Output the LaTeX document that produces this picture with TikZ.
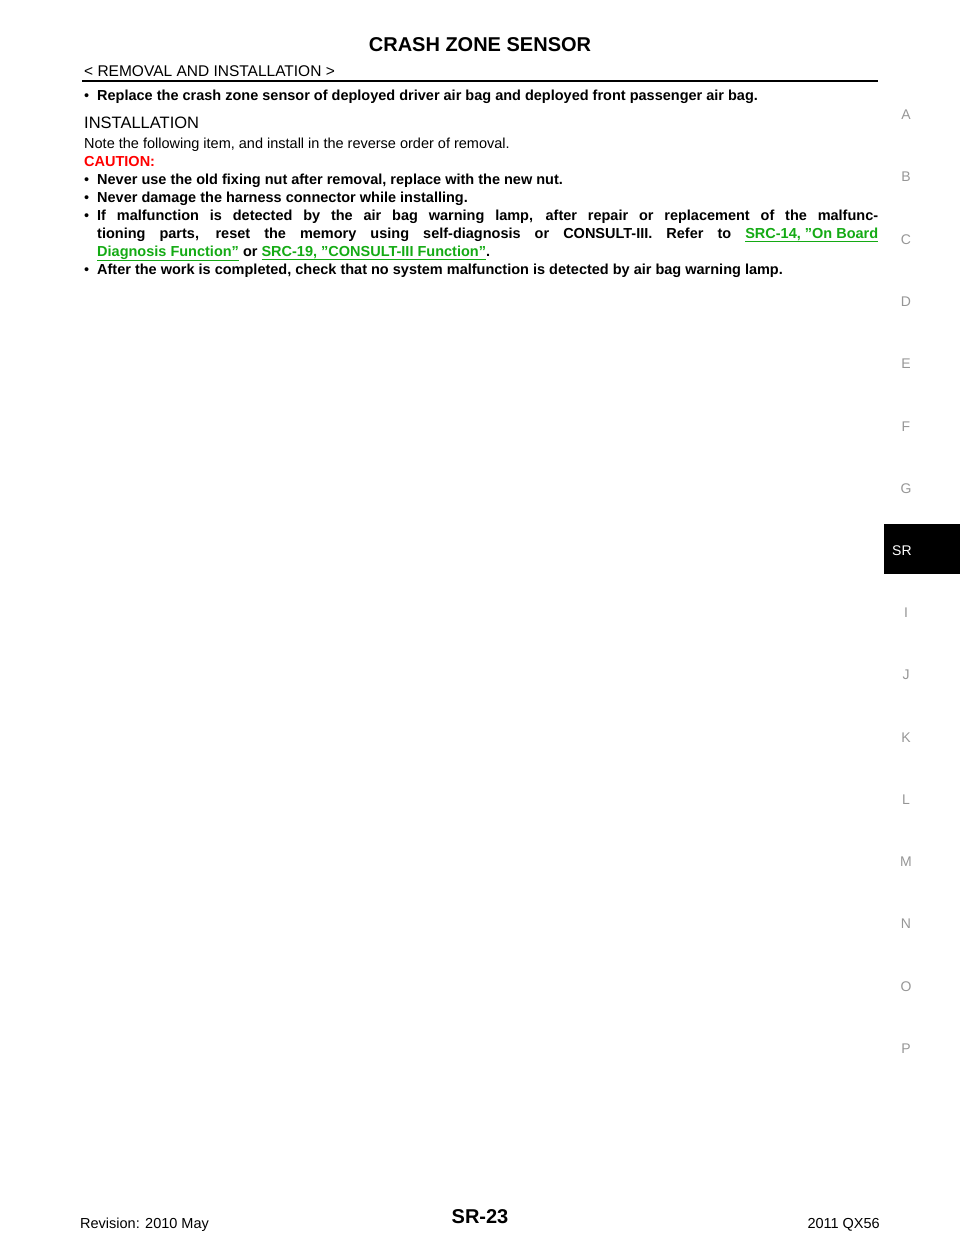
\documentclass[tikz,border=0pt]{standalone}
\usepackage{fontspec}
\setmainfont{Liberation Sans}
\definecolor{lnk}{RGB}{20,170,20}
\definecolor{side}{RGB}{150,150,150}
\newcommand{\lk}[1]{\textcolor{lnk}{\underline{#1}}}
\begin{document}
\begin{tikzpicture}[x=1pt,y=-1pt,
  txt/.style={anchor=base west,inner sep=0,font=\fontsize{14.5}{18}\selectfont},
  btxt/.style={txt,font=\fontsize{14.5}{18}\selectfont\bfseries},
  bul/.style={anchor=base west,inner sep=0,font=\fontsize{14.5}{18}\selectfont},
  sidel/.style={anchor=base,inner sep=0,text=side,font=\fontsize{14}{16}\selectfont}]
\useasboundingbox (0,0) rectangle (960,1242);
\node[anchor=base,inner sep=0,font=\fontsize{20}{24}\selectfont\bfseries] (title) at (480,51) {CRASH ZONE SENSOR};
\node[txt,font=\fontsize{15.5}{18}\selectfont] (sub) at (84,76) {< REMOVAL AND INSTALLATION >};
\draw[line width=2.5pt] (82,81) -- (878,81);
\node[bul] (b0) at (84,100) {•};
\node[btxt] (l0) at (97,100) {Replace the crash zone sensor of deployed driver air bag and deployed front passenger air bag.};
\node[txt,font=\fontsize{16.5}{18}\selectfont] (inst) at (84,128) {INSTALLATION};
\node[txt] (note) at (84,148) {Note the following item, and install in the reverse order of removal.};
\node[btxt,text=red] (caut) at (84,166) {CAUTION:};
\node[bul] (b1) at (84,184) {•};
\node[btxt] (l1) at (97,184) {Never use the old fixing nut after removal, replace with the new nut.};
\node[bul] (b2) at (84,202) {•};
\node[btxt] (l2) at (97,202) {Never damage the harness connector while installing.};
\node[bul] (b3) at (84,220) {•};
\node[btxt,text width=781pt,align=justify] (l3) at (97,220) {If malfunction is detected by the air bag warning lamp, after repair or replacement of the malfunc-\linebreak tioning parts, reset the memory using self-diagnosis or CONSULT-III. Refer to \lk{SRC-14, "On Board}\linebreak \lk{Diagnosis Function"} or \lk{SRC-19, "CONSULT-III Function"}.};
\node[bul] (b4) at (84,274) {•};
\node[btxt] (l4) at (97,274) {After the work is completed, check that no system malfunction is detected by air bag warning lamp.};
\foreach \t/\y in {A/119,B/181,C/244,D/306,E/368,F/431,G/493,I/617,J/679,K/742,L/804,M/866,N/928,O/991,P/1053}
  \node[sidel] (s\t) at (906,\y) {\t};
\fill (884,524) rectangle (960,574);
\node[anchor=base west,inner sep=0,text=white,font=\fontsize{14}{16}\selectfont] (sr) at (892,555) {SR};
\node[txt] (rev) at (80,1228) {Revision: 2010 May};
\node[anchor=base,inner sep=0,font=\fontsize{20}{24}\selectfont\bfseries] (pg) at (480,1223) {SR-23};
\node[anchor=base east,inner sep=0,font=\fontsize{14.5}{18}\selectfont] (mdl) at (880,1228) {2011 QX56};
\end{tikzpicture}
\end{document}
